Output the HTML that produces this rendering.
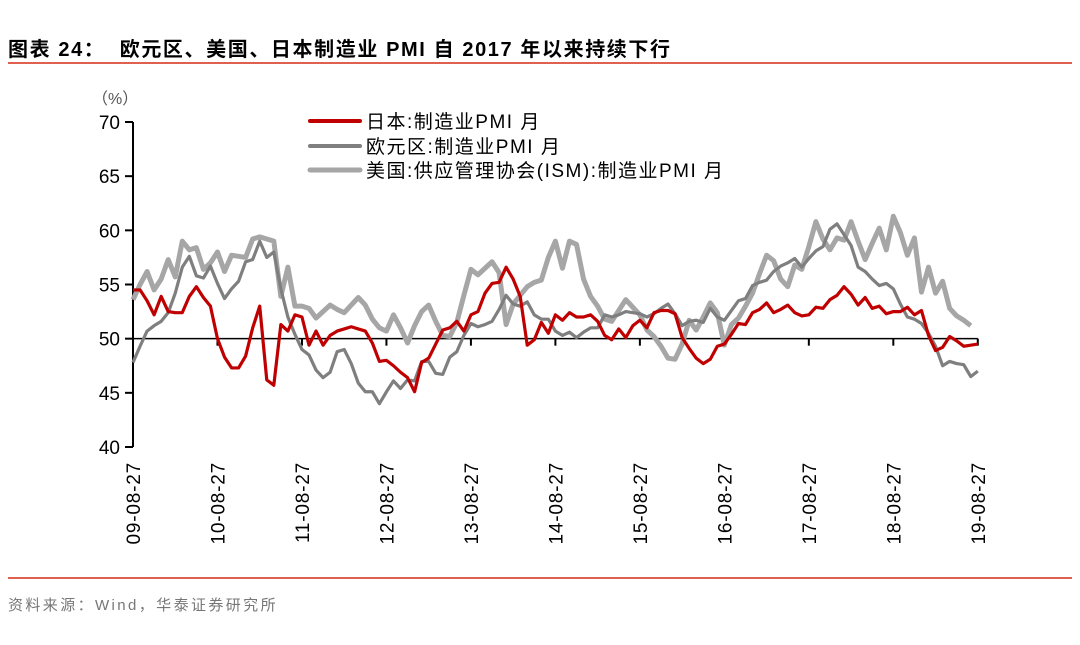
<!DOCTYPE html>
<html><head><meta charset="utf-8">
<style>
body{margin:0;background:#fff;width:1080px;height:645px;overflow:hidden;font-family:"Liberation Sans","Noto Sans CJK SC",sans-serif;}
#title{position:absolute;left:8px;top:33px;font-size:20px;letter-spacing:1.6px;font-weight:bold;color:#000;white-space:nowrap;font-family:"Liberation Sans","Noto Sans CJK SC",sans-serif;}
#src{position:absolute;left:8px;top:594px;font-size:15px;letter-spacing:2.4px;color:#777;white-space:nowrap;}
.rule{position:absolute;left:8px;width:1064px;height:2px;background:#e06050;}
svg{position:absolute;left:0;top:0;}
</style></head><body>
<div id="title">图表 24：&nbsp;&nbsp;欧元区、美国、日本制造业 PMI 自 2017 年以来持续下行</div>
<div class="rule" style="top:62px"></div>
<div class="rule" style="top:577px"></div>
<div id="src">资料来源：Wind，华泰证券研究所</div>
<svg id="chart" width="1080" height="645"></svg>
<script>
const yTicks=[40,45,50,55,60,65,70];
const xTickLabels=["09-08-27","10-08-27","11-08-27","12-08-27","13-08-27","14-08-27","15-08-27","16-08-27","17-08-27","18-08-27","19-08-27"];
const japan=[54.5,54.5,53.5,52.2,53.9,52.5,52.4,52.4,53.9,54.8,53.8,53,
50,48.3,47.3,47.3,48.4,51,53,46.2,45.7,51.3,50.7,52.2,
52,49.4,50.7,49.4,50.3,50.7,50.9,51.1,50.9,50.7,49.6,47.9,
48,47.5,46.9,46.4,45.1,47.8,48.2,49.5,50.8,51,51.6,50.7,
52.2,52.5,54.2,55.1,55.2,56.6,55.5,53.9,49.4,49.9,51.5,50.5,
52.2,51.7,52.4,52.0,52.0,52.2,51.6,50.3,49.9,50.9,50.1,51.2,
51.7,51.0,52.4,52.6,52.6,52.3,50.1,49.1,48.2,47.7,48.1,49.3,
49.5,50.4,51.4,51.3,52.4,52.7,53.3,52.4,52.7,53.1,52.4,52.1,
52.2,52.9,52.8,53.6,54.0,54.8,54.1,53.1,53.8,52.8,53.0,52.3,
52.5,52.5,52.9,52.2,52.6,50.3,48.9,49.2,50.2,49.8,49.3,49.4,49.5];
const euro=[47.8,49.3,50.7,51.2,51.6,52.4,54.2,56.6,57.6,55.8,55.6,56.7,
55.1,53.7,54.6,55.3,57.1,57.3,59.0,57.5,58.0,54.6,52.0,50.4,
49.0,48.5,47.1,46.4,46.9,48.8,49.0,47.7,45.9,45.1,45.1,44.0,
45.1,46.1,45.4,46.2,46.1,47.9,47.9,46.8,46.7,48.3,48.8,50.3,
51.4,51.1,51.3,51.6,52.7,54.0,53.2,53.0,53.4,52.2,51.8,51.8,
50.7,50.3,50.6,50.1,50.6,51.0,51.0,52.2,52.0,52.2,52.5,52.4,
52.3,52.0,52.3,52.8,53.2,52.3,51.2,51.6,51.7,51.5,52.8,52.0,
51.7,52.6,53.5,53.7,54.9,55.2,55.4,56.2,56.7,57.0,57.4,56.6,
57.4,58.1,58.5,60.1,60.6,59.6,58.6,56.6,56.2,55.5,54.9,55.1,
54.6,53.2,52.0,51.8,51.4,50.5,49.3,47.5,47.9,47.7,47.6,46.5,47.0];
const usa=[53.6,55,56.2,54.5,55.5,57.3,55.7,59,58.2,58.4,56.4,57,
58,56.2,57.7,57.6,57.5,59.2,59.4,59.2,59,53.9,56.6,53,
53,52.8,51.9,52.5,53.1,52.7,52.4,53.1,53.8,53.1,51.8,51,
50.7,52.2,51,49.6,51.2,52.5,53.1,51.6,50.3,50.2,51.5,54,
56.4,55.9,56.5,57.1,56.1,51.3,53.2,54,54.8,55.2,55.4,57.5,
59,56.5,59,58.7,55.5,53.9,53,51.8,51.6,52.6,53.6,52.9,
52.2,50.8,50.2,49.3,48.2,48.1,49.5,51.7,50.8,52,53.3,52.4,
49.4,51.3,51.9,53,54.2,56,57.7,57.2,55.5,54.8,56.8,56.4,
58.5,60.8,59.2,58.2,59.3,59.1,60.8,59,57.3,58.8,60.2,58.2,
61.3,59.8,57.7,59.3,54.3,56.6,54.2,55.3,52.8,52.1,51.7,51.2];

const NS="http://www.w3.org/2000/svg";
const svg=document.getElementById('chart');
const X0=133,XSTEP=7.04,Y0=447,YPX=10.833;
function xs(i){return X0+i*XSTEP;}
function ys(v){return Y0-(v-40)*YPX;}
function mk(tag,attrs,parent){const e=document.createElementNS(NS,tag);for(const k in attrs)e.setAttribute(k,attrs[k]);(parent||svg).appendChild(e);return e;}

const yAxis=mk('line',{x1:X0,y1:ys(70),x2:X0,y2:ys(40),stroke:'#000','stroke-width':2});


yTicks.forEach(v=>{
  const t=mk('line',{x1:X0-8,y1:ys(v),x2:X0,y2:ys(v),stroke:'#000','stroke-width':2});
  
  
  const l=mk('text',{x:X0-13,y:ys(v)+7,'text-anchor':'end','font-size':19,fill:'#000','font-family':'Liberation Sans, sans-serif'});
  l.textContent=v;
  
  
});
const unit=mk('text',{x:92,y:104,'font-size':16,fill:'#555','font-family':'Liberation Sans, Noto Sans CJK SC, sans-serif'});
unit.textContent='（%）';



const xAxis=mk('line',{x1:X0,y1:ys(50),x2:xs(120),y2:ys(50),stroke:'#000','stroke-width':1.5});


xTickLabels.forEach((s,k)=>{
  const x=xs(k*12);
  const t=mk('line',{x1:x,y1:ys(50),x2:x,y2:ys(50)+7,stroke:'#000','stroke-width':2});
  
  
  const l=mk('text',{x:0,y:0,'text-anchor':'end','font-size':19,'letter-spacing':0.8,fill:'#000','font-family':'Liberation Sans, sans-serif',transform:`translate(${x+7},462) rotate(-90)`});
  l.textContent=s;
  
  
});

function series(data,color,w,name){
  const p=mk('polyline',{points:data.map((v,i)=>xs(i)+','+ys(v)).join(' '),fill:'none',stroke:color,'stroke-width':w,'stroke-linejoin':'round'});
  
  
}
series(usa,'#a6a6a6',5,'us-ism-pmi-line');
series(euro,'#7f7f7f',3.2,'eurozone-pmi-line');
series(japan,'#c00000',3.2,'japan-pmi-line');

const legend=[['日本:制造业PMI 月','#c00000',4,121],['欧元区:制造业PMI 月','#7f7f7f',4,146],['美国:供应管理协会(ISM):制造业PMI 月','#a6a6a6',5,170]];
legend.forEach(([txt,c,w,y])=>{
  const g=mk('g',{});
  
  
  mk('line',{x1:310,y1:y,x2:360,y2:y,stroke:c,'stroke-width':w,'stroke-linecap':'round'},g);
  const t=mk('text',{x:366,y:y+7,'font-size':19,'letter-spacing':1.5,fill:'#000','font-family':'Liberation Sans, Noto Sans CJK SC, sans-serif'},g);
  t.textContent=txt;
});
</script>
</body></html>
